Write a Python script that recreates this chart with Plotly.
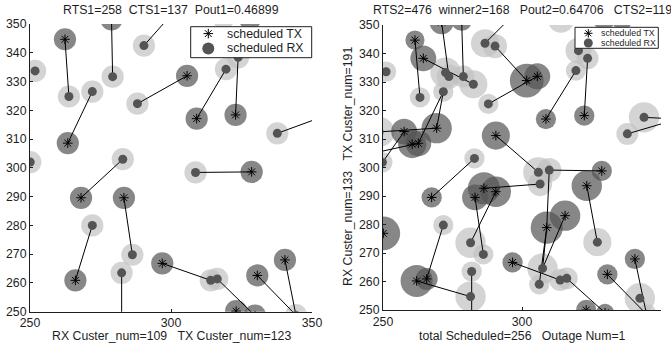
import plotly.graph_objects as go

W, H = 671, 347

# ---------------- data: left panel ----------------
L_TX_X = [262.4, 278.9, 263.4, 305.7, 309.1, 322.9, 328.6, 268.1, 283.3, 266.1,
          296.9, 323.1, 329.8, 330.6, 340.4, 328.0, 302.2, 360.0, 282.5]
L_TX_Y = [344.7, 351.6, 308.6, 332.0, 317.1, 318.4, 298.6, 289.6, 289.6, 260.9,
          266.8, 250.2, 248.6, 262.6, 268.0, 351.8, 355.5, 320.0, 240.0]
L_RX_X = [263.8, 279.3, 290.4, 251.8, 272.1, 288.1, 319.5, 323.8, 337.7, 250.1,
          282.9, 308.7, 286.3, 272.1, 282.5, 314.1, 316.4, 344.3, 318.6, 347.5]
L_RX_Y = [324.8, 331.7, 342.5, 333.7, 326.5, 322.3, 334.3, 338.4, 312.0, 302.0,
          303.0, 298.4, 269.8, 280.0, 263.5, 260.9, 261.4, 248.8, 352.0, 344.6]
L_LINKS = [(0, 0), (1, 1), (16, 2), (2, 4), (3, 5), (4, 6), (5, 7), (17, 8),
           (7, 10), (6, 11), (8, 12), (9, 13), (18, 14), (10, 15), (12, 16),
           (14, 17), (13, 17)]
L_TX_R = 3.9   # coverage radius (data units)
L_RX_R = 3.9

# ---------------- data: right panel ----------------
R_TX_X = [261.5, 264.5, 257.6, 269.3, 260.5, 262.7, 290.6, 301.7, 305.5, 308.6,
          322.4, 271.1, 278.3, 329.5, 336.0, 267.5, 286.3, 290.6, 283.1, 250.1,
          262.1, 265.7, 296.6, 328.7, 323.3, 308.9, 315.5, 323.1, 329.9, 330.7,
          340.6, 356.0, 299.5, 281.9]
R_TX_Y = [344.7, 338.3, 312.6, 313.8, 308.2, 308.5, 311.2, 330.5, 332.0, 317.0,
          318.2, 351.0, 351.5, 352.0, 352.3, 289.5, 292.7, 291.5, 289.5, 276.9,
          260.2, 260.9, 266.7, 298.8, 293.6, 278.9, 283.1, 250.0, 249.0, 262.5,
          267.9, 317.0, 356.0, 240.0]
R_TX_R = [3.4, 4.6, 4.6, 5.4, 5.0, 4.6, 5.0, 6.0, 4.6, 3.6,
          3.6, 4.3, 3.6, 3.9, 3.9, 3.6, 5.7, 5.4, 4.6, 6.0,
          5.7, 3.9, 3.6, 3.6, 5.4, 5.7, 5.4, 3.6, 3.2, 3.6,
          3.6, 3.6, 3.6, 3.6]
R_RX_X = [263.3, 282.5, 272.5, 273.7, 278.9, 271.7, 251.1, 286.7, 290.3, 287.9,
          249.8, 248.6, 244.0, 282.9, 305.9, 309.8, 306.5, 320.3, 323.6, 319.4,
          343.9, 337.9, 286.1, 281.5, 271.7, 281.5, 281.9, 327.1, 307.4, 306.2,
          313.7, 316.1, 342.4, 314.0, 344.8]
R_RX_Y = [324.6, 329.2, 333.3, 331.9, 331.9, 326.6, 333.6, 343.6, 342.6, 322.3,
          301.8, 312.5, 304.5, 303.2, 298.3, 299.1, 294.2, 341.0, 338.3, 334.0,
          317.6, 311.8, 269.5, 273.6, 279.8, 254.7, 263.5, 273.8, 264.6, 259.0,
          260.5, 261.1, 254.1, 351.8, 248.5]
R_RX_R = [3.6, 5.0, 5.4, 4.3, 3.9, 3.6, 3.6, 5.0, 4.3, 3.6,
          3.6, 5.4, 3.6, 3.6, 5.4, 4.3, 4.3, 4.6, 3.9, 3.6,
          5.4, 3.9, 3.6, 5.4, 3.6, 5.4, 3.6, 5.0, 5.4, 3.6,
          3.9, 3.9, 5.4, 4.6, 3.6]
R_LINKS = [(0, 0), (1, 1), (11, 3), (12, 4), (3, 5), (5, 5), (32, 7), (7, 8),
           (8, 9), (2, 10), (3, 11), (5, 12), (15, 13), (6, 14), (23, 15),
           (25, 15), (16, 16), (10, 18), (9, 19), (31, 20), (31, 21), (18, 22),
           (17, 23), (21, 24), (20, 25), (33, 26), (24, 27), (25, 28), (26, 28),
           (25, 29), (22, 30), (28, 31), (29, 34), (30, 34)]

LEFT_TITLE = "RTS1=258  CTS1=137  Pout1=0.46899"
RIGHT_TITLE = "RTS2=476  winner2=168   Pout2=0.64706   CTS2=119"
LEFT_XLABEL = "RX Custer_num=109   TX Custer_num=123"
RIGHT_XLABEL = "total Scheduled=256   Outage Num=1"
RIGHT_YLABEL = "RX Custer_num=133   TX Custer_num=191"
LEGEND_LABELS = ["scheduled TX", "scheduled RX"]
X_TICKS = [250, 300, 350]
Y_TICKS = [250, 260, 270, 280, 290, 300, 310, 320, 330, 340, 350]

# ---------------- styles ----------------
DARK = "#545454"
LIGHT = "#c2c2c2"
INK = "#1e1e1e"
FONT = "Liberation Sans, Arial, sans-serif"
FS = 12.3
DOT = 9
STAR = 8

XR = [250, 350]
YR = [250, 350]
L_XD = [30 / W, 312 / W]
L_YD = [1 - 311.7 / H, 1 - 24 / H]
R_XD = [383 / W, 661 / W]
R_YD = [1 - 310 / H, 1 - 25 / H]


def ppu(xd, yd):
    return ((xd[1] - xd[0]) * W / (XR[1] - XR[0]) + (yd[1] - yd[0]) * H / (YR[1] - YR[0])) / 2


def sp(s):
    return s.replace(" ", "\u00a0")


fig = go.Figure()


def add_panel(xa, ya, tx_x, tx_y, tx_r, rx_x, rx_y, rx_r, links, scale):
    tx_s = [2 * r * scale for r in tx_r]
    rx_s = [2 * r * scale for r in rx_r]
    common = dict(xaxis=xa, yaxis=ya, showlegend=False, hoverinfo="skip")
    fig.add_trace(go.Scatter(x=rx_x, y=rx_y, mode="markers", name="RX range",
                             marker=dict(size=rx_s, color=LIGHT, line=dict(width=0)), **common))
    fig.add_trace(go.Scatter(x=tx_x, y=tx_y, mode="markers", name="TX range",
                             marker=dict(size=tx_s, color=DARK, line=dict(width=0)), **common))
    lx, ly = [], []
    for t, r in links:
        lx += [tx_x[t], rx_x[r], None]
        ly += [tx_y[t], rx_y[r], None]
    fig.add_trace(go.Scatter(x=lx, y=ly, mode="lines", name="links",
                             line=dict(color="black", width=1), **common))
    fig.add_trace(go.Scatter(x=rx_x, y=rx_y, mode="markers", name="scheduled RX",
                             marker=dict(size=DOT, color=DARK, line=dict(width=0)), **common))
    fig.add_trace(go.Scatter(x=tx_x, y=tx_y, mode="markers", name="scheduled TX",
                             marker=dict(size=STAR, symbol="asterisk-open", color="black",
                                         line=dict(width=1, color="black")), **common))


add_panel("x", "y", L_TX_X, L_TX_Y, [L_TX_R] * len(L_TX_X), L_RX_X, L_RX_Y,
          [L_RX_R] * len(L_RX_X), L_LINKS, ppu(L_XD, L_YD))
add_panel("x2", "y2", R_TX_X, R_TX_Y, R_TX_R, R_RX_X, R_RX_Y, R_RX_R, R_LINKS, ppu(R_XD, R_YD))

# ---------------- legend boxes (drawn on a pixel overlay axis, above both panels) ----------------
# (box left, top, right, bottom, symbol x, row1 y, row2 y, text x, font, star size, dot size)
LEGENDS = [
    (190.7, 26.7, 311.7, 57.7, 208.3, 33.6, 48.4, 224.5, 12.3, 8, 12),
    (575.0, 27.3, 658.3, 48.3, 588.3, 33.3, 43.0, 598.5, 8.8, 7, 9),
]
annotations = []
for bx0, by0, bx1, by1, sx, y1, y2, tx, fs, ss, cs in LEGENDS:
    fig.add_trace(go.Scatter(x=[bx0, bx1, bx1, bx0, bx0], y=[by0, by0, by1, by1, by0],
                             xaxis="x3", yaxis="y3", mode="lines", fill="toself",
                             fillcolor="white", line=dict(color=INK, width=1),
                             showlegend=False, hoverinfo="skip"))
    fig.add_trace(go.Scatter(x=[sx], y=[y1], xaxis="x3", yaxis="y3", mode="markers",
                             showlegend=False, hoverinfo="skip", cliponaxis=False,
                             marker=dict(size=ss, symbol="asterisk-open", color="black",
                                         line=dict(width=1, color="black"))))
    fig.add_trace(go.Scatter(x=[sx], y=[y2], xaxis="x3", yaxis="y3", mode="markers",
                             showlegend=False, hoverinfo="skip", cliponaxis=False,
                             marker=dict(size=cs, color=DARK, line=dict(width=0))))
    for lab, yy in zip(LEGEND_LABELS, [y1, y2]):
        annotations.append(dict(text=lab, x=tx / W, y=1 - yy / H, xref="paper", yref="paper",
                                showarrow=False, xanchor="left", yanchor="middle",
                                font=dict(size=fs, family=FONT, color=INK)))

axis_common = dict(range=XR, showgrid=False, zeroline=False, showline=True, linecolor=INK,
                   linewidth=1, ticks="inside", ticklen=3, tickcolor=INK, mirror=False,
                   automargin=False, tickfont=dict(family=FONT, size=FS, color=INK))

annotations += [
    dict(text=sp(LEFT_TITLE), x=171 / W, y=1 - 9.5 / H, xref="paper", yref="paper",
         showarrow=False, xanchor="center", yanchor="middle", font=dict(size=FS)),
    dict(text=sp(RIGHT_TITLE), x=522 / W, y=1 - 9.5 / H, xref="paper", yref="paper",
         showarrow=False, xanchor="center", yanchor="middle", font=dict(size=FS)),
    dict(text=sp(LEFT_XLABEL), x=171 / W, y=1 - 336 / H, xref="paper", yref="paper",
         showarrow=False, xanchor="center", yanchor="middle", font=dict(size=FS)),
    dict(text=sp(RIGHT_XLABEL), x=522 / W, y=1 - 336 / H, xref="paper", yref="paper",
         showarrow=False, xanchor="center", yanchor="middle", font=dict(size=FS)),
    dict(text=sp(RIGHT_YLABEL), x=348 / W, y=1 - 167 / H, xref="paper", yref="paper",
         showarrow=False, xanchor="center", yanchor="middle", textangle=-90, font=dict(size=FS)),
]

fig.update_layout(
    width=W, height=H, autosize=False, template="none",
    margin=dict(l=0, r=0, t=0, b=0, pad=0),
    paper_bgcolor="white", plot_bgcolor="rgba(0,0,0,0)",
    font=dict(family=FONT, size=FS, color=INK),
    showlegend=False,
    xaxis=dict(domain=L_XD, anchor="y", tickvals=X_TICKS, **axis_common),
    yaxis=dict(domain=L_YD, anchor="x", tickvals=Y_TICKS, **axis_common),
    xaxis2=dict(domain=R_XD, anchor="y2", tickvals=X_TICKS, **axis_common),
    yaxis2=dict(domain=R_YD, anchor="x2", tickvals=Y_TICKS, **axis_common),
    xaxis3=dict(domain=[0, 1], range=[0, W], visible=False, fixedrange=True, anchor="y3"),
    yaxis3=dict(domain=[0, 1], range=[H, 0], visible=False, fixedrange=True, anchor="x3"),
    annotations=annotations,
)

fig.write_html("out.html", config={"displayModeBar": False},
               post_script="document.body.style.margin='0';")
